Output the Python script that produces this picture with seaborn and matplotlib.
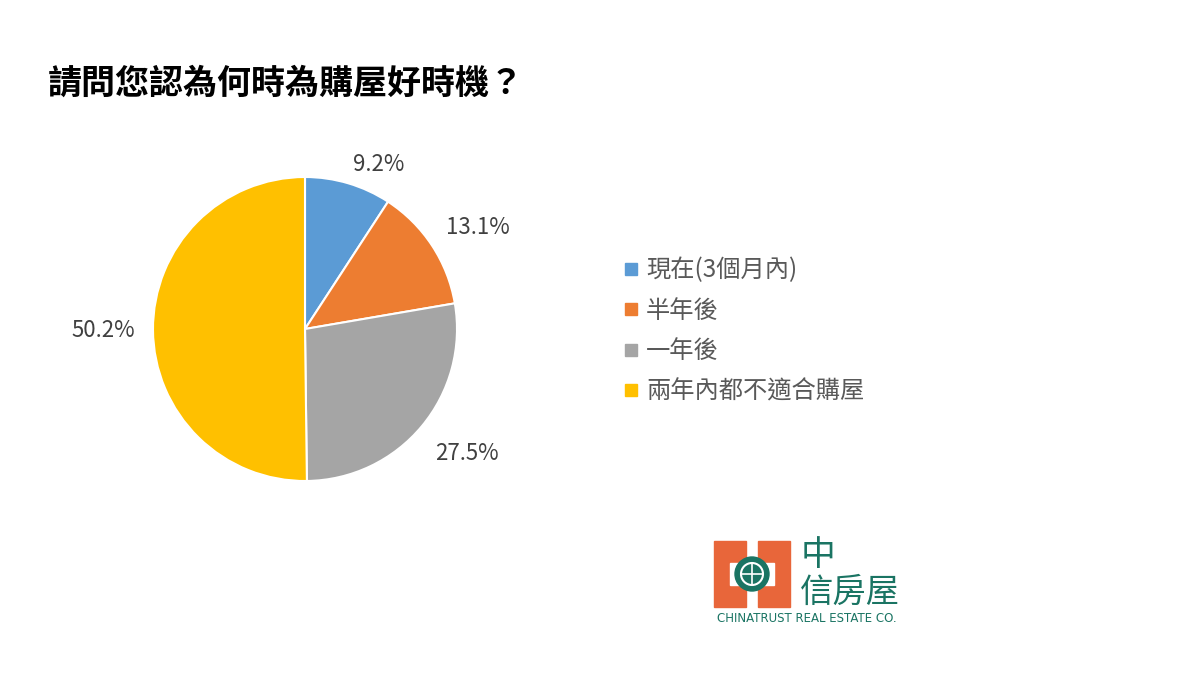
import numpy as np
import matplotlib
matplotlib.use("Agg")
import matplotlib.pyplot as plt
import seaborn as sns
from matplotlib.patches import Rectangle, Circle
from matplotlib.lines import Line2D

categories = ["現在(3個月內)", "半年後", "一年後", "兩年內都不適合購屋"]
values = [9.2, 13.1, 27.5, 50.2]
colors = ["#5B9BD5", "#ED7D31", "#A5A5A5", "#FFC000"]
label_dist = [1.13, 1.22, 1.28, 1.33]
label_dx = [25, 18, 12, 0]  # small horizontal nudges (pixels)
title = "請問您認為何時為購屋好時機？"

sns.set_theme(style="white")
plt.rcParams['font.family'] = ['Noto Sans CJK TC', 'DejaVu Sans']

W, H = 1200, 675
fig = plt.figure(figsize=(12, 6.75), dpi=100)
fig.patch.set_facecolor("white")

cx, cy, r = 305, 329, 152
ax = fig.add_axes([(cx - r) / W, (H - cy - r) / H, 2 * r / W, 2 * r / H])
wedges, _ = ax.pie(values, colors=colors, startangle=90, counterclock=False,
                   radius=1, wedgeprops=dict(edgecolor="white", linewidth=1.5))
ax.set_xlim(-1, 1)
ax.set_ylim(-1, 1)
ax.set_aspect("equal")
ax.axis("off")

for w, v, d, dx in zip(wedges, values, label_dist, label_dx):
    ang = np.deg2rad((w.theta1 + w.theta2) / 2)
    ax.annotate(f"{v:.1f}%", (d * np.cos(ang), d * np.sin(ang)),
                xytext=(dx * 0.72, 0), textcoords="offset points",
                ha="center", va="center", fontsize=16, color="#404040",
                annotation_clip=False)

fig.text(48 / W, 1 - 83 / H, title, fontsize=24.5, fontweight="bold", color="black",
         ha="left", va="center")

handles = [Line2D([], [], marker="s", linestyle="", markersize=9, markerfacecolor=c,
                  markeredgecolor=c) for c in colors]
fig.legend(handles, categories, loc="upper left", bbox_to_anchor=(612 / W, 1 - 245 / H),
           frameon=False, fontsize=17.5, labelcolor="#595959", handlelength=0.6,
           handletextpad=0.3, labelspacing=0.6, borderpad=0)

# logo
orange = "#E8663A"
green = "#1A7463"
lax = fig.add_axes([0, 0, 1, 1], facecolor="none")
lax.set_xlim(0, W)
lax.set_ylim(H, 0)
lax.axis("off")
lax.add_patch(Rectangle((714, 541), 32, 66, color=orange))
lax.add_patch(Rectangle((758, 541), 32, 66, color=orange))
lax.add_patch(Rectangle((740, 560), 24, 26, color=orange))
lax.add_patch(Rectangle((730, 563), 44, 22, color="white"))
lax.add_patch(Circle((752, 574), 17, color=green))
lax.add_patch(Circle((752, 574), 11, facecolor="none", edgecolor="white", linewidth=1.5))
lax.plot([741, 763], [574, 574], color="white", linewidth=1.2)
lax.plot([752, 752], [563, 585], color="white", linewidth=1.2)
lax.text(818, 556, "中", fontsize=25, fontweight="medium", color=green, ha="center", va="center")
lax.text(850, 592, "信房屋", fontsize=24, fontweight="medium", color=green, ha="center", va="center")
lax.text(807, 619, "CHINATRUST REAL ESTATE CO.", fontsize=8.5, color=green,
         ha="center", va="center", family="Liberation Sans Narrow")

fig.savefig("out.png", dpi=100, facecolor="white")
